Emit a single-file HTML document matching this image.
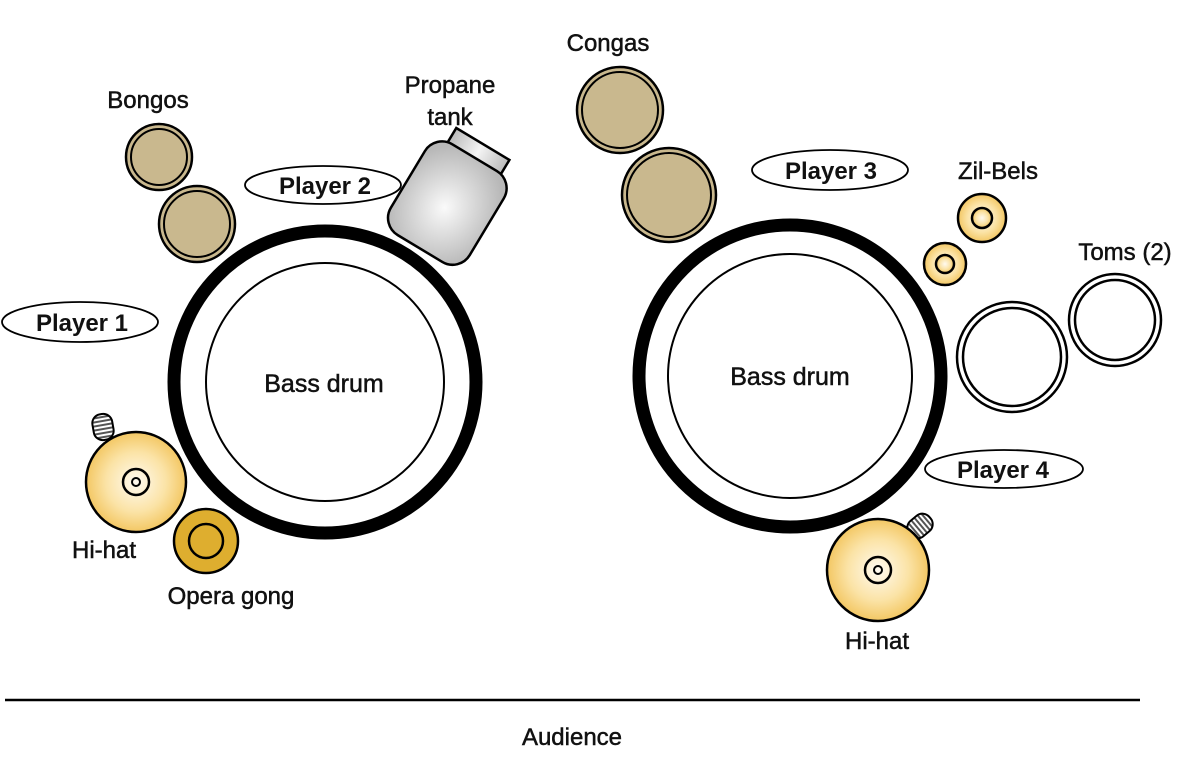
<!DOCTYPE html>
<html><head><meta charset="utf-8"><style>
html,body{margin:0;padding:0;background:#fff}
svg{display:block}
text{font-family:"Liberation Sans",sans-serif;fill:#111}
.r{stroke:#111;stroke-width:0.5}
</style></head><body>
<svg width="1200" height="763" viewBox="0 0 1200 763" xmlns="http://www.w3.org/2000/svg">
<defs>
<radialGradient id="gold" cx="50%" cy="50%" r="50%">
<stop offset="0" stop-color="#fffaf0"/><stop offset="0.6" stop-color="#fbe3a6"/><stop offset="1" stop-color="#f3c763"/>
</radialGradient>
<radialGradient id="gray" cx="50%" cy="55%" r="60%">
<stop offset="0" stop-color="#fafafa"/><stop offset="1" stop-color="#b8b8b8"/>
</radialGradient>
<linearGradient id="cap" x1="0" y1="0" x2="1" y2="0">
<stop offset="0" stop-color="#bbb"/><stop offset="0.5" stop-color="#f4f4f4"/><stop offset="1" stop-color="#bbb"/>
</linearGradient>
<pattern id="stripe" width="4" height="4" patternUnits="userSpaceOnUse">
<rect width="4" height="4" fill="#fff"/><rect width="4" height="2" fill="#555"/>
</pattern>
</defs>

<circle cx="325" cy="382" r="151" fill="#fff" stroke="#000" stroke-width="13"/>
<circle cx="325" cy="382" r="119" fill="#fff" stroke="#000" stroke-width="2"/>
<text class="r" x="324" y="392" font-size="25" text-anchor="middle">Bass drum</text>

<circle cx="790" cy="376" r="151" fill="#fff" stroke="#000" stroke-width="13"/>
<circle cx="790" cy="376" r="122" fill="#fff" stroke="#000" stroke-width="2"/>
<text class="r" x="790" y="385" font-size="25" text-anchor="middle">Bass drum</text>

<circle cx="159" cy="157" r="33" fill="#c9b88e" stroke="#000" stroke-width="2.5"/>
<circle cx="159" cy="157" r="28" fill="none" stroke="#000" stroke-width="2"/>
<circle cx="197" cy="224" r="38" fill="#c9b88e" stroke="#000" stroke-width="2.5"/>
<circle cx="197" cy="224" r="33" fill="none" stroke="#000" stroke-width="2"/>
<text class="r" x="148" y="108" font-size="24" text-anchor="middle">Bongos</text>

<circle cx="620" cy="110" r="43" fill="#c9b88e" stroke="#000" stroke-width="2.5"/>
<circle cx="620" cy="110" r="38" fill="none" stroke="#000" stroke-width="2"/>
<circle cx="669" cy="195" r="47" fill="#c9b88e" stroke="#000" stroke-width="2.5"/>
<circle cx="669" cy="195" r="42" fill="none" stroke="#000" stroke-width="2"/>
<text class="r" x="608" y="51" font-size="24" text-anchor="middle">Congas</text>

<g transform="rotate(31 448 200)">
<rect x="418" y="134" width="62" height="22" fill="url(#cap)" stroke="#000" stroke-width="2.5"/>
<rect x="403" y="150" width="92" height="106" rx="20" fill="url(#gray)" stroke="#000" stroke-width="2.5"/>
</g>
<text class="r" x="450" y="93" font-size="24" text-anchor="middle">Propane</text>
<text class="r" x="450" y="125" font-size="24" text-anchor="middle">tank</text>

<circle cx="982" cy="218" r="24" fill="url(#gold)" stroke="#000" stroke-width="2.5"/>
<circle cx="982" cy="218" r="10" fill="url(#gold)" stroke="#000" stroke-width="2.5"/>
<circle cx="945" cy="264" r="21" fill="url(#gold)" stroke="#000" stroke-width="2.5"/>
<circle cx="945" cy="264" r="9" fill="url(#gold)" stroke="#000" stroke-width="2.5"/>
<text class="r" x="998" y="179" font-size="24" text-anchor="middle">Zil-Bels</text>

<circle cx="1012" cy="357" r="55" fill="#fff" stroke="#000" stroke-width="2.5"/>
<circle cx="1012" cy="357" r="49" fill="none" stroke="#000" stroke-width="2.5"/>
<circle cx="1115" cy="320" r="46" fill="#fff" stroke="#000" stroke-width="2.5"/>
<circle cx="1115" cy="320" r="40" fill="none" stroke="#000" stroke-width="2.5"/>
<text class="r" x="1125" y="260" font-size="24" text-anchor="middle">Toms (2)</text>

<rect x="93" y="414" width="20" height="26" rx="9" fill="url(#stripe)" stroke="#000" stroke-width="2" transform="rotate(-10 103 427)"/>
<circle cx="136" cy="482" r="50" fill="url(#gold)" stroke="#000" stroke-width="2.5"/>
<circle cx="136" cy="482" r="13" fill="none" stroke="#000" stroke-width="2.5"/>
<circle cx="136" cy="482" r="4" fill="none" stroke="#000" stroke-width="2"/>
<text class="r" x="104" y="558" font-size="24" text-anchor="middle">Hi-hat</text>

<circle cx="206" cy="541" r="32" fill="#deae2f" stroke="#000" stroke-width="2.5"/>
<circle cx="206" cy="541" r="17" fill="none" stroke="#000" stroke-width="2.5"/>
<text class="r" x="231" y="604" font-size="24" text-anchor="middle">Opera gong</text>

<rect x="910" y="513" width="20" height="26" rx="9" fill="url(#stripe)" stroke="#000" stroke-width="2" transform="rotate(50 920 526)"/>
<circle cx="878" cy="570" r="51" fill="url(#gold)" stroke="#000" stroke-width="2.5"/>
<circle cx="878" cy="570" r="13" fill="none" stroke="#000" stroke-width="2.5"/>
<circle cx="878" cy="570" r="4" fill="none" stroke="#000" stroke-width="2"/>
<text class="r" x="877" y="649" font-size="24" text-anchor="middle">Hi-hat</text>

<ellipse cx="80" cy="322" rx="78" ry="20" fill="#fff" stroke="#000" stroke-width="1.8"/>
<text x="82" y="331" font-size="24" font-weight="bold" text-anchor="middle">Player 1</text>
<ellipse cx="323" cy="185" rx="78" ry="19" fill="#fff" stroke="#000" stroke-width="1.8"/>
<text x="325" y="194" font-size="24" font-weight="bold" text-anchor="middle">Player 2</text>
<ellipse cx="830" cy="170" rx="78" ry="20" fill="#fff" stroke="#000" stroke-width="1.8"/>
<text x="831" y="179" font-size="24" font-weight="bold" text-anchor="middle">Player 3</text>
<ellipse cx="1004" cy="469" rx="79" ry="19" fill="#fff" stroke="#000" stroke-width="1.8"/>
<text x="1003" y="478" font-size="24" font-weight="bold" text-anchor="middle">Player 4</text>

<line x1="5" y1="700" x2="1140" y2="700" stroke="#000" stroke-width="2.5"/>
<text class="r" x="572" y="745" font-size="24" text-anchor="middle">Audience</text>
</svg>
</body></html>
